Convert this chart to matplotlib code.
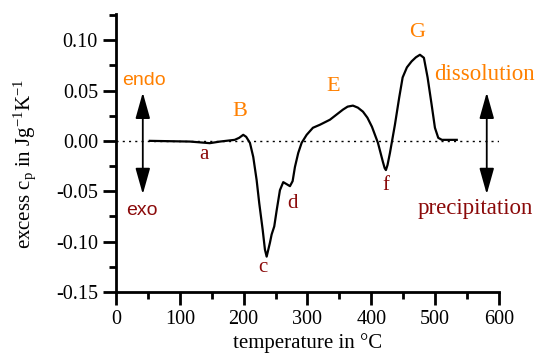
import numpy as np
import matplotlib
matplotlib.use('Agg')
import matplotlib.pyplot as plt

plt.rcParams['font.family'] = 'Liberation Serif'
plt.rcParams['mathtext.fontset'] = 'custom'
plt.rcParams['mathtext.rm'] = 'Liberation Serif'
plt.rcParams['mathtext.it'] = 'Liberation Serif:italic'

# DSC-Kurve
temp = [53, 80, 116, 147, 163, 186, 193, 199.4, 204, 209.9, 215.1, 220.4, 224.5, 229.8,
        233.4, 236.1, 241.3, 243.9, 248, 251.8, 256.9, 262.1, 267.4, 272.6, 276.8, 280.4,
        285.6, 290.9, 298.8, 308.6, 319.6, 335.3, 355.6, 363, 371.3, 379, 387, 394, 401.1,
        410.5, 418.3, 421, 423, 425.5, 429.3, 437.1, 443.8, 449.2, 455.9, 463.3, 470, 476.3,
        482.5, 488.3, 494.6, 499.8, 505, 510.7, 534]
cp = [0.0, -0.0003, -0.0007, -0.0023, -0.0007, 0.001, 0.003, 0.006, 0.004, -0.002, -0.016,
      -0.039, -0.062, -0.088, -0.108, -0.115, -0.101, -0.093, -0.085, -0.069, -0.049, -0.041,
      -0.043, -0.045, -0.040, -0.026, -0.012, -0.002, 0.006, 0.013, 0.016, 0.021, 0.031, 0.034,
      0.035, 0.033, 0.029, 0.023, 0.014, -0.002, -0.021, -0.027, -0.029, -0.024, -0.012, 0.016,
      0.043, 0.063, 0.073, 0.079, 0.083, 0.0855, 0.0825, 0.063, 0.036, 0.013, 0.003, 0.001,
      0.001]

orange = '#ff8000'
darkred = '#8b0a0a'

fig = plt.figure(figsize=(5.37, 3.59), dpi=100)
ax = fig.add_axes([0.216, 0.187, 0.713, 0.774])

ax.axhline(0, color='k', lw=1.0, ls=(0, (1.5, 3)), zorder=1)
ax.plot(temp, cp, color='k', lw=1.6, zorder=3)

# Pfeile endo/exo
for xa in [42, 581]:
    ax.annotate('', xy=(xa, 0.048), xytext=(xa, -0.053),
                arrowprops=dict(arrowstyle='<|-|>,head_length=1.6,head_width=0.45',
                                lw=1.3, color='k', shrinkA=0, shrinkB=0))

ax.text(44, 0.060, 'endo', color=orange, fontsize=14, family='Liberation Sans', ha='center', va='center')
ax.text(40, -0.069, 'exo', color=darkred, fontsize=14, family='Liberation Sans', ha='center', va='center')
ax.text(194, 0.029, 'B', color=orange, fontsize=16, ha='center', va='center')
ax.text(138, -0.014, 'a', color=darkred, fontsize=15, ha='center', va='center')
ax.text(230, -0.126, 'c', color=darkred, fontsize=15, ha='center', va='center')
ax.text(276, -0.062, 'd', color=darkred, fontsize=15, ha='center', va='center')
ax.text(340, 0.054, 'E', color=orange, fontsize=16, ha='center', va='center')
ax.text(423, -0.044, 'f', color=darkred, fontsize=15, ha='center', va='center')
ax.text(472, 0.108, 'G', color=orange, fontsize=16, ha='center', va='center')
ax.text(578, 0.066, 'dissolution', color=orange, fontsize=16.5, ha='center', va='center')
ax.text(563, -0.067, 'precipitation', color=darkred, fontsize=16.5, ha='center', va='center')

ax.set_xlim(0, 600)
ax.set_ylim(-0.15, 0.126)
ax.set_xticks([0, 100, 200, 300, 400, 500, 600])
ax.set_xticks(np.arange(50, 600, 100), minor=True)
ax.set_yticks([-0.15, -0.10, -0.05, 0.0, 0.05, 0.10])
ax.set_yticks([-0.125, -0.075, -0.025, 0.025, 0.075, 0.125], minor=True)
ax.set_yticklabels(['-0.15', '-0.10', '-0.05', '0.00', '0.05', '0.10'])

ax.spines['top'].set_visible(False)
ax.spines['right'].set_visible(False)
ax.spines['left'].set_linewidth(2)
ax.spines['bottom'].set_linewidth(2)
ax.tick_params(which='major', direction='out', length=9.5, width=2, labelsize=14.5)
ax.tick_params(which='minor', direction='out', length=5, width=2)

ax.set_xlabel('temperature in °C', fontsize=15, labelpad=3)
ax.set_ylabel('excess c$_\\mathrm{p}$ in Jg$^{\\mathrm{-1}}$K$^{\\mathrm{-1}}$', fontsize=15)
ax.yaxis.set_label_coords(-0.205, 0.46)

fig.savefig('out.png', dpi=100)
